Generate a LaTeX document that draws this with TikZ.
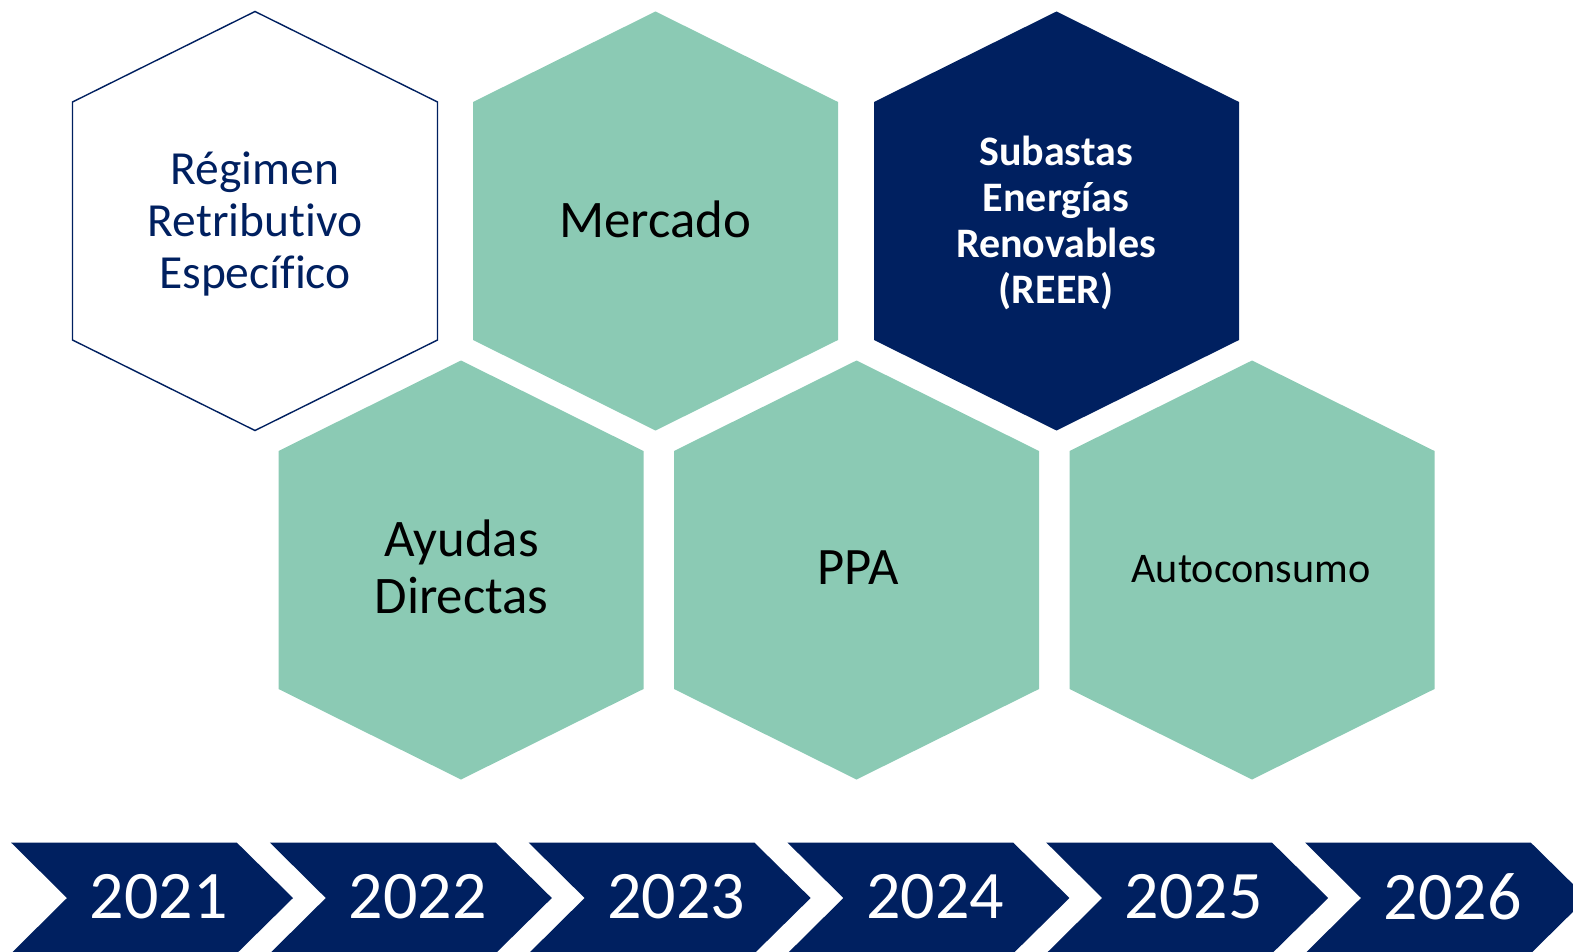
\documentclass[tikz,border=0pt]{standalone}
\usepackage{fontspec}
\setmainfont{Carlito}[Ligatures=NoCommon]
\definecolor{navy}{RGB}{0,32,96}
\definecolor{teal}{RGB}{139,202,180}
\tikzset{
  hexgreen/.style={fill=teal},
  hexnavy/.style={fill=navy},
  hexline/.style={draw=navy,line width=1.4pt,fill=white},
  chev/.style={fill=navy},
  yearlbl/.style={text=white,font=\fontsize{68}{78}\selectfont,inner sep=0pt},
  hexlbl/.style={align=center,inner sep=0pt}
}
\newcommand{\hexshape}[3]{\path[#3,shift={(#1,#2)}] (-182.5,-119) -- (0,-209.5) -- (182.5,-119) -- (182.5,119) -- (0,209.5) -- (-182.5,119) -- cycle;}
\newcommand{\chevshape}[1]{\path[chev,shift={(#1,0)}] (0,842.5) -- (225.7,842.5) -- (282,898) -- (225.7,953.5) -- (0,953.5) -- (56,898) -- cycle;}
\begin{document}
\begin{tikzpicture}[x=1pt,y=-1pt]
\useasboundingbox (0,0) rectangle (1573,952);
\clip (0,0) rectangle (1573,952);
% hexagons
\hexshape{255}{221}{hexline}
\hexshape{655.5}{221}{hexgreen}
\hexshape{1056.5}{221}{hexnavy}
\hexshape{461}{570}{hexgreen}
\hexshape{856.5}{570}{hexgreen}
\hexshape{1252}{570}{hexgreen}
\node[hexlbl,text=navy,font=\fontsize{47.5}{51.7}\selectfont] (reg) at (255,224) {Régimen\\Retributivo\\Específico};
\node[hexlbl,font=\fontsize{52.8}{60}\selectfont] (mer) at (655,219) {Mercado};
\node[hexlbl,text=white,font=\fontsize{42}{46}\selectfont\bfseries] (sub) at (1056,223) {Subastas\\Energías\\Renovables\\(REER)};
\node[hexlbl,font=\fontsize{52.8}{56.7}\selectfont] (ayu) at (461.5,567) {Ayudas\\Directas};
\node[hexlbl,font=\fontsize{52.6}{56}\selectfont] (ppa) at (858,568) {PPA};
\node[hexlbl,font=\fontsize{42.2}{46}\selectfont] (aut) at (1251,569) {Autoconsumo};
% timeline chevrons
\chevshape{11}
\chevshape{269.8}
\chevshape{528.6}
\chevshape{787.4}
\chevshape{1046.2}
\chevshape{1305}
\node[yearlbl] (y1) at (158.7,897) {2021};
\node[yearlbl] (y2) at (417.5,897) {2022};
\node[yearlbl] (y3) at (676.3,897) {2023};
\node[yearlbl] (y4) at (935.1,897) {2024};
\node[yearlbl] (y5) at (1193.9,897) {2025};
\node[yearlbl] (y6) at (1452.7,897) {2026};
\end{tikzpicture}
\end{document}
